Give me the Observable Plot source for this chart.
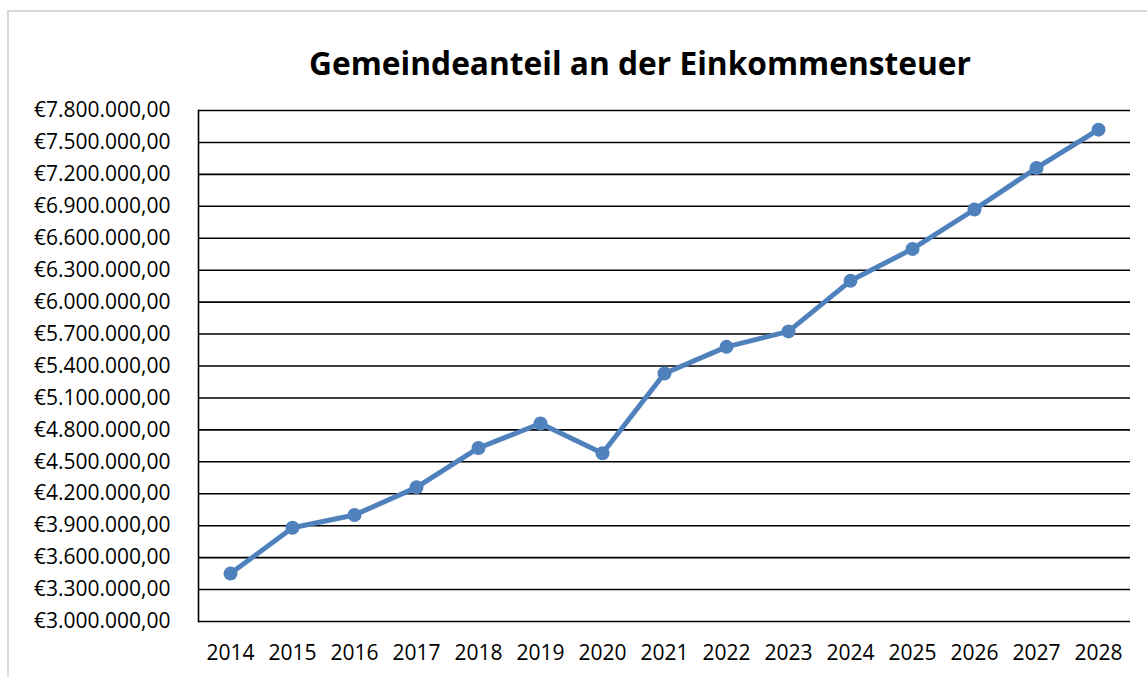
<!DOCTYPE html>
<html>
<head>
<meta charset="utf-8">
<script src="https://cdn.jsdelivr.net/npm/d3@7"></script>
<script src="https://cdn.jsdelivr.net/npm/@observablehq/plot@0.6"></script>
<style>
  body { margin: 0; background: #fff; }
  #wrap { position: relative; width: 1147px; height: 677px; overflow: hidden; font-family: "Open Sans", sans-serif; color: #000; }
  #frame { position: absolute; left: 7px; top: 10px; width: 1300px; height: 800px; border: 2px solid #d9d9d9; box-sizing: border-box; }
  #title { position: absolute; left: 140px; width: 1000px; top: 40px; text-align: center; font-weight: bold; font-size: 31.7px; line-height: 46px; }
  #chart { position: absolute; left: 0; top: 0; }
</style>
</head>
<body>
<div id="wrap">
  <div id="frame"></div>
  <div id="chart"></div>
  <div id="title">Gemeindeanteil an der Einkommensteuer</div>
</div>
<script>
const years = ["2014","2015","2016","2017","2018","2019","2020","2021","2022","2023","2024","2025","2026","2027","2028"];
const values = [3450000, 3880000, 4000000, 4260000, 4630000, 4860000, 4580000, 5330000, 5580000, 5725000, 6200000, 6500000, 6870000, 7260000, 7620000];
const yTicks = [3000000, 3300000, 3600000, 3900000, 4200000, 4500000, 4800000, 5100000, 5400000, 5700000, 6000000, 6300000, 6600000, 6900000, 7200000, 7500000, 7800000];

const data = years.map((year, i) => ({year, value: values[i]}));
const deLocale = d3.formatLocale({decimal: ",", thousands: ".", grouping: [3], currency: ["€", ""]});
const fmt = deLocale.format("$,.2f");

const chart = Plot.plot({
  width: 1147,
  height: 677,
  marginLeft: 198,
  marginRight: 17,
  marginTop: 110,
  marginBottom: 56,
  style: { fontFamily: "'Open Sans', sans-serif", fontSize: "21px", color: "#000", background: "transparent" },
  x: { type: "point", domain: years, padding: 0.5, label: null },
  y: { domain: [3000000, 7800000], label: null },
  marks: [
    Plot.ruleY(yTicks, { stroke: "#000", strokeWidth: 1.6 }),
    Plot.frame({ anchor: "left", stroke: "#000", strokeWidth: 1.6 }),
    Plot.axisY(yTicks, { tickSize: 0, tickPadding: 28, tickFormat: fmt, label: null }),
    Plot.axisX({ tickSize: 0, tickPadding: 24, label: null }),
    Plot.line(data, { x: "year", y: "value", stroke: "#4f81bd", strokeWidth: 5 }),
    Plot.dot(data, { x: "year", y: "value", r: 7, fill: "#4f81bd", stroke: "none" })
  ]
});
document.getElementById("chart").appendChild(chart);
</script>
</body>
</html>
